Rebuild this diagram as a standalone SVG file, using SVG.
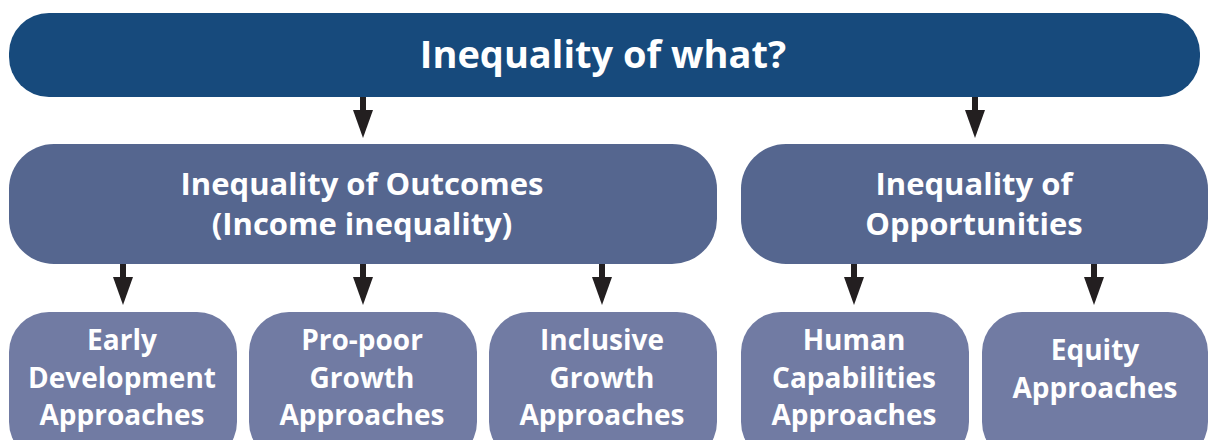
<svg xmlns="http://www.w3.org/2000/svg" width="1208" height="440" viewBox="0 0 1208 440">
<defs>
<style>
text{font-family:"Open Sans","Liberation Sans",sans-serif;font-weight:bold;fill:#fff;text-anchor:middle}
.t0{font-size:38px}
.t1{font-size:31px}
.t2{font-size:28px}
.top{fill:#174a7c}
.mid{fill:#55668f}
.leaf{fill:#717ba3}
.shaft{stroke:#231f20;stroke-width:6;fill:none}
.head{fill:#231f20}
</style>
</defs>
<rect width="1208" height="440" fill="#fff"/>
<g id="connectors">
<line class="shaft" x1="363" y1="96" x2="363" y2="112"/><polygon class="head" points="353,110 373,110 363,138"/>
<line class="shaft" x1="975" y1="96" x2="975" y2="112"/><polygon class="head" points="965,110 985,110 975,138"/>
<line class="shaft" x1="123" y1="263" x2="123" y2="279"/><polygon class="head" points="113,277 133,277 123,305"/>
<line class="shaft" x1="363" y1="263" x2="363" y2="279"/><polygon class="head" points="353,277 373,277 363,305"/>
<line class="shaft" x1="602" y1="263" x2="602" y2="279"/><polygon class="head" points="592,277 612,277 602,305"/>
<line class="shaft" x1="854" y1="263" x2="854" y2="279"/><polygon class="head" points="844,277 864,277 854,305"/>
<line class="shaft" x1="1094" y1="263" x2="1094" y2="279"/><polygon class="head" points="1084,277 1104,277 1094,305"/>
</g>
<g id="root"><rect class="top" x="9" y="13" width="1191" height="84" rx="40"/><text class="t0" x="603" y="68">Inequality of what?</text></g>
<g id="outcomes"><rect class="mid" x="9" y="144" width="708" height="120" rx="45"/><text class="t1" x="362" y="195">Inequality of Outcomes</text><text class="t1" x="362" y="235">(Income inequality)</text></g>
<g id="opportunities"><rect class="mid" x="741" y="144" width="467" height="120" rx="45"/><text class="t1" x="974" y="195">Inequality of</text><text class="t1" x="974" y="235">Opportunities</text></g>
<g id="early"><rect class="leaf" x="9" y="312" width="228" height="150" rx="40"/><text class="t2" x="122" y="350">Early</text><text class="t2" x="122" y="388">Development</text><text class="t2" x="122" y="425">Approaches</text></g>
<g id="propoor"><rect class="leaf" x="249" y="312" width="228" height="150" rx="40"/><text class="t2" x="362" y="350">Pro-poor</text><text class="t2" x="362" y="388">Growth</text><text class="t2" x="362" y="425">Approaches</text></g>
<g id="inclusive"><rect class="leaf" x="489" y="312" width="228" height="150" rx="40"/><text class="t2" x="602" y="350">Inclusive</text><text class="t2" x="602" y="388">Growth</text><text class="t2" x="602" y="425">Approaches</text></g>
<g id="human"><rect class="leaf" x="741" y="312" width="228" height="150" rx="40"/><text class="t2" x="854" y="350">Human</text><text class="t2" x="854" y="388">Capabilities</text><text class="t2" x="854" y="425">Approaches</text></g>
<g id="equity"><rect class="leaf" x="982" y="312" width="226" height="150" rx="40"/><text class="t2" x="1095" y="360">Equity</text><text class="t2" x="1095" y="398">Approaches</text></g>
</svg>
